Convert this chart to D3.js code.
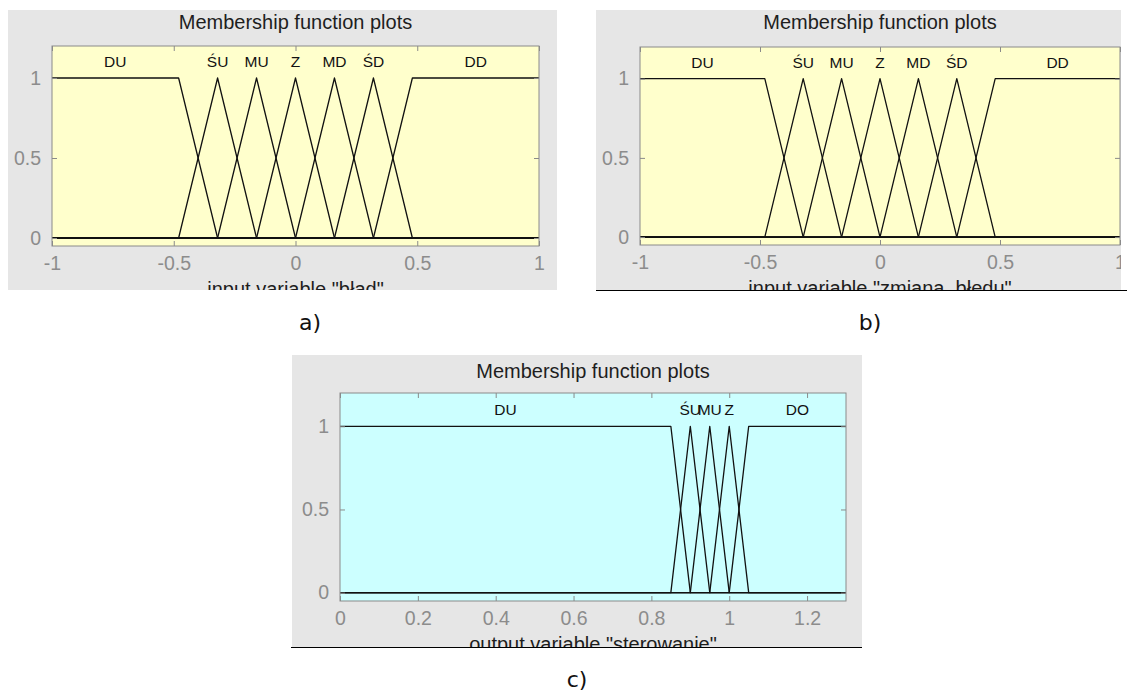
<!DOCTYPE html>
<html>
<head>
<meta charset="utf-8">
<script src="https://cdn.jsdelivr.net/npm/d3@7"></script>
<style>
  html, body { margin: 0; padding: 0; background: #ffffff; }
  svg { display: block; }
</style>
</head>
<body>
<svg id="chart" width="1127" height="693"></svg>
<script>
// Fuzzy membership functions of the controller (names and breakpoints)
const inputNames = ["DU", "ŚU", "MU", "Z", "MD", "ŚD", "DD"];
const inputParams = [
  [-1, -1, -0.48, -0.32],
  [-0.48, -0.32, -0.16],
  [-0.32, -0.16, 0],
  [-0.16, 0, 0.16],
  [0, 0.16, 0.32],
  [0.16, 0.32, 0.48],
  [0.32, 0.48, 1, 1]
];
const outputNames = ["DU", "ŚU", "MU", "Z", "DO"];
const outputParams = [
  [0, 0, 0.85, 0.9],
  [0.85, 0.9, 0.95],
  [0.9, 0.95, 1.0],
  [0.95, 1.0, 1.05],
  [1.0, 1.05, 1.3, 1.3]
];

// Axis ranges and ticks
const inputRange = [-1, 1];
const outputRange = [0, 1.3];
const degreeRange = [-0.05, 1.2];
const inputTicks = [-1, -0.5, 0, 0.5, 1];
const inputTickLabels = ["-1", "-0.5", "0", "0.5", "1"];
const outputTicks = [0, 0.2, 0.4, 0.6, 0.8, 1, 1.2];
const outputTickLabels = ["0", "0.2", "0.4", "0.6", "0.8", "1", "1.2"];
const degreeTicks = [0, 0.5, 1];
const degreeTickLabels = ["0", "0.5", "1"];

const titleText = "Membership function plots";
const xLabels = ['input variable "bład"', 'input variable "zmiana_błedu"', 'output variable "sterowanie"'];
const captions = ["a)", "b)", "c)"];

// Panel geometry
const panels = [
  { id: "a", frame: [8, 10, 557, 290], plot: [52, 46, 539, 246], fill: "#ffffcc",
    names: inputNames, params: inputParams, xr: inputRange, ticks: inputTicks, tickLabels: inputTickLabels,
    xlabel: xLabels[0], caption: captions[0], capPos: [310, 330], rule: false, titleY: 29 },
  { id: "b", frame: [596, 10, 1121, 290], plot: [640, 47, 1120, 245], fill: "#ffffcc",
    names: inputNames, params: inputParams, xr: inputRange, ticks: inputTicks, tickLabels: inputTickLabels,
    xlabel: xLabels[1], caption: captions[1], capPos: [870, 330], rule: [596, 1127], titleY: 29 },
  { id: "c", frame: [292, 355, 862, 647], plot: [340, 393, 846, 601], fill: "#ccffff",
    names: outputNames, params: outputParams, xr: outputRange, ticks: outputTicks, tickLabels: outputTickLabels,
    xlabel: xLabels[2], caption: captions[2], capPos: [577, 687], rule: [291, 862], titleY: 378 }
];

const svg = d3.select("#chart");
const defs = svg.append("defs");
const uiFont = "'Liberation Sans', Arial, Helvetica, sans-serif";

// Breakpoints of one membership function over the whole variable range
function mfPoints(p, xr) {
  let pts;
  if (p.length === 3) {
    pts = [[xr[0], 0], [p[0], 0], [p[1], 1], [p[2], 0], [xr[1], 0]];
  } else if (p[0] === p[1]) {
    pts = [[xr[0], 1], [p[2], 1], [p[3], 0], [xr[1], 0]];
  } else if (p[2] === p[3]) {
    pts = [[xr[0], 0], [p[0], 0], [p[1], 1], [xr[1], 1]];
  } else {
    pts = [[xr[0], 0], [p[0], 0], [p[1], 1], [p[2], 1], [p[3], 0], [xr[1], 0]];
  }
  return pts.filter(d => d[0] >= xr[0] && d[0] <= xr[1]);
}

// Label anchor: peak of a triangle, middle of the plateau of a trapezoid
function mfCenter(p, xr) {
  if (p.length === 3) return p[1];
  const lo = Math.max(p[1], xr[0]), hi = Math.min(p[2], xr[1]);
  return (lo + hi) / 2;
}

panels.forEach(P => {
  const [fx0, fy0, fx1, fy1] = P.frame;
  const [px0, py0, px1, py1] = P.plot;

  defs.append("clipPath").attr("id", "clip-" + P.id)
    .append("rect").attr("x", fx0).attr("y", fy0).attr("width", fx1 - fx0).attr("height", fy1 - fy0);

  const g = svg.append("g").attr("clip-path", "url(#clip-" + P.id + ")");

  g.append("rect").attr("x", fx0).attr("y", fy0).attr("width", fx1 - fx0).attr("height", fy1 - fy0)
    .attr("fill", "#e6e6e6");

  const x = d3.scaleLinear().domain(P.xr).range([px0, px1]);
  const y = d3.scaleLinear().domain(degreeRange).range([py1, py0]);

  g.append("rect").attr("x", px0).attr("y", py0).attr("width", px1 - px0).attr("height", py1 - py0)
    .attr("fill", P.fill);

  // Title
  g.append("text").attr("x", (px0 + px1) / 2).attr("y", P.titleY)
    .attr("text-anchor", "middle").attr("font-family", uiFont).attr("font-size", 20)
    .attr("fill", "#1e1e1e").text(titleText);

  // Membership function curves
  const line = d3.line().x(d => x(d[0])).y(d => y(d[1]));
  g.append("g").selectAll("path").data(P.params).join("path")
    .attr("d", p => line(mfPoints(p, P.xr)))
    .attr("fill", "none").attr("stroke", "#111").attr("stroke-width", 1.3)
    .attr("stroke-linejoin", "round");

  // Membership function names
  g.append("g").selectAll("text").data(P.params).join("text")
    .attr("x", p => x(mfCenter(p, P.xr)))
    .attr("y", y(1.07))
    .attr("text-anchor", "middle").attr("font-family", uiFont).attr("font-size", 15.5)
    .attr("fill", "#111")
    .text((p, i) => P.names[i]);

  // Box with inward ticks on all four sides
  const axisColor = "#8a8a8a";
  const xBottom = d3.axisBottom(x).tickValues(P.ticks).tickSizeInner(-5).tickSizeOuter(0)
    .tickFormat((d, i) => P.tickLabels[i]).tickPadding(10);
  const xTop = d3.axisTop(x).tickValues(P.ticks).tickSizeInner(-5).tickSizeOuter(0).tickFormat("");
  const yLeft = d3.axisLeft(y).tickValues(degreeTicks).tickSizeInner(-5).tickSizeOuter(0)
    .tickFormat((d, i) => degreeTickLabels[i]).tickPadding(11);
  const yRight = d3.axisRight(y).tickValues(degreeTicks).tickSizeInner(-5).tickSizeOuter(0).tickFormat("");

  const axes = [
    g.append("g").attr("transform", `translate(0,${py1})`).call(xBottom),
    g.append("g").attr("transform", `translate(0,${py0})`).call(xTop),
    g.append("g").attr("transform", `translate(${px0},0)`).call(yLeft),
    g.append("g").attr("transform", `translate(${px1},0)`).call(yRight)
  ];
  axes.forEach(a => {
    a.select(".domain").remove();
    a.selectAll(".tick line").attr("stroke", axisColor);
    a.selectAll("text").attr("font-family", uiFont).attr("font-size", 19.5).attr("fill", "#8c8c8c");
  });
  g.append("rect").attr("x", px0).attr("y", py0).attr("width", px1 - px0).attr("height", py1 - py0)
    .attr("fill", "none").attr("stroke", axisColor).attr("stroke-width", 1);

  // Axis label (partly cut by the panel edge)
  g.append("text").attr("x", (px0 + px1) / 2).attr("y", py1 + 50)
    .attr("text-anchor", "middle").attr("font-family", uiFont).attr("font-size", 20)
    .attr("fill", "#1e1e1e").text(P.xlabel);

  if (P.rule) {
    svg.append("line").attr("x1", P.rule[0]).attr("x2", P.rule[1]).attr("y1", fy1 + 0.5).attr("y2", fy1 + 0.5)
      .attr("stroke", "#000").attr("stroke-width", 1.2);
  }

  svg.append("text").attr("x", P.capPos[0]).attr("y", P.capPos[1])
    .attr("text-anchor", "middle").attr("font-family", "'DejaVu Sans', sans-serif").attr("font-size", 22)
    .attr("fill", "#111").text(P.caption);
});
</script>
</body>
</html>
